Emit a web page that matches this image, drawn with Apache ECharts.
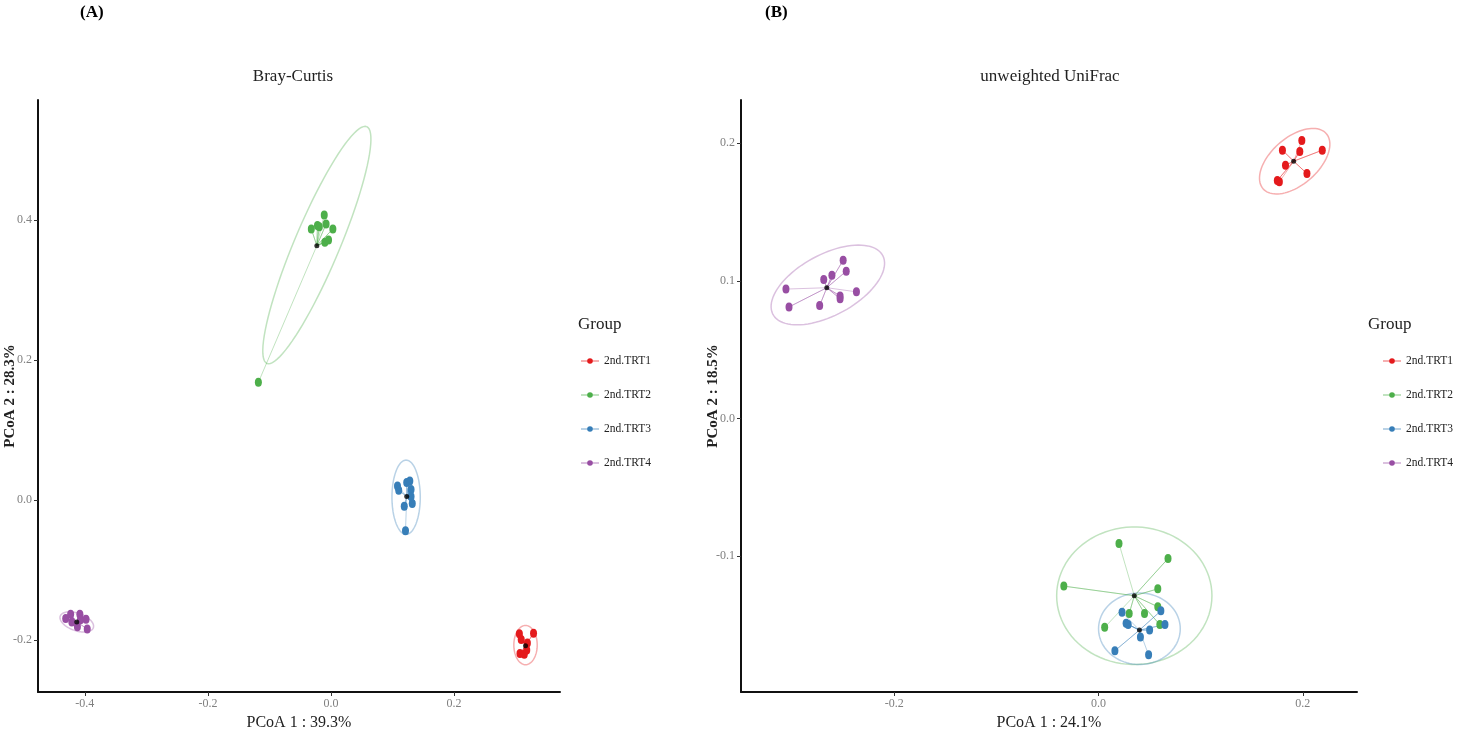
<!DOCTYPE html>
<html>
<head>
<meta charset="utf-8">
<title>PCoA</title>
<script src="https://cdn.jsdelivr.net/npm/echarts@6.0.0/dist/echarts.min.js"></script>
<style>
  html, body { margin: 0; padding: 0; background: #fff; }
  #main { width: 1460px; height: 738px; }
</style>
</head>
<body>
<div id="main"></div>
<script>
const groups = ['2nd.TRT1', '2nd.TRT2', '2nd.TRT3', '2nd.TRT4']

// Bray-Curtis (A)
const bcTRT1 = [[0.306, -0.191], [0.309, -0.199], [0.329, -0.190], [0.319, -0.204], [0.318, -0.214], [0.307, -0.219], [0.314, -0.220]]
const bcTRT2 = [[-0.011, 0.407], [-0.032, 0.387], [-0.022, 0.392], [-0.019, 0.390], [-0.008, 0.394], [0.003, 0.387], [-0.010, 0.368], [-0.004, 0.371], [-0.118, 0.168]]
const bcTRT3 = [[0.108, 0.020], [0.110, 0.014], [0.123, 0.025], [0.128, 0.027], [0.130, 0.015], [0.130, 0.005], [0.132, -0.005], [0.119, -0.009], [0.121, -0.044]]
const bcTRT4 = [[-0.431, -0.169], [-0.423, -0.163], [-0.421, -0.174], [-0.408, -0.163], [-0.407, -0.171], [-0.398, -0.170], [-0.396, -0.184], [-0.412, -0.181]]
const bcCentroids = [[0.316, -0.208], [-0.023, 0.363], [0.123, 0.005], [-0.413, -0.174]]
// center x, y, end of one axis x, y, end of the other axis x, y
const bcEllipses = [
  [0.316, -0.207, 0.316, -0.179, 0.335, -0.207],
  [-0.023, 0.364, 0.058, 0.533, 0.011, 0.352],
  [0.122, 0.004, 0.122, 0.057, 0.145, 0.004],
  [-0.413, -0.174, -0.386, -0.182, -0.417, -0.186]
]

// unweighted UniFrac (B)
const uuTRT1 = [[0.199, 0.202], [0.180, 0.195], [0.197, 0.194], [0.219, 0.195], [0.183, 0.184], [0.204, 0.178], [0.175, 0.173], [0.177, 0.172]]
const uuTRT2 = [[0.020, -0.091], [0.068, -0.102], [-0.034, -0.122], [0.058, -0.124], [0.058, -0.137], [0.030, -0.142], [0.045, -0.142], [0.060, -0.150], [0.006, -0.152]]
const uuTRT3 = [[0.023, -0.141], [0.061, -0.140], [0.027, -0.149], [0.029, -0.150], [0.050, -0.154], [0.065, -0.150], [0.041, -0.159], [0.016, -0.169], [0.049, -0.172]]
const uuTRT4 = [[-0.306, 0.094], [-0.303, 0.081], [-0.273, 0.082], [-0.269, 0.101], [-0.261, 0.104], [-0.250, 0.115], [-0.247, 0.107], [-0.253, 0.089], [-0.253, 0.087], [-0.237, 0.092]]
const uuCentroids = [[0.191, 0.187], [0.035, -0.129], [0.040, -0.154], [-0.266, 0.095]]
const uuEllipses = [
  [0.192, 0.187, 0.223, 0.207, 0.207, 0.174],
  [0.035, -0.129, 0.111, -0.129, 0.035, -0.079],
  [0.040, -0.153, 0.080, -0.153, 0.040, -0.127],
  [-0.265, 0.097, -0.211, 0.118, -0.252, 0.077]
]

const bcTicksX = [-0.4, -0.2, 0.0, 0.2]
const bcTicksY = [-0.2, 0.0, 0.2, 0.4]
const uuTicksX = [-0.2, 0.0, 0.2]
const uuTicksY = [-0.1, 0.0, 0.1, 0.2]

const colors = ['#e41a1c', '#4daf4a', '#377eb8', '#984ea3']
const lightColors = ['rgba(228,26,28,0.35)', 'rgba(77,175,74,0.35)', 'rgba(55,126,184,0.35)', 'rgba(152,78,163,0.35)']
const serif = "'Liberation Serif', 'DejaVu Serif', serif"

const chart = echarts.init(document.getElementById('main'))

// point -> centroid spokes, drawn as one polyline through the centroid
function spider(points, centroid) {
  const out = []
  points.forEach((p, i) => {
    if (i > 0) out.push({ value: centroid, symbol: 'none' })
    out.push(p)
  })
  return out
}

function ellipseItem(params, api) {
  const cx = api.value(0)
  const cy = api.value(1)
  const ax = api.value(2) - cx
  const ay = api.value(3) - cy
  const bx = api.value(4) - cx
  const by = api.value(5) - cy
  const pts = []
  for (let i = 0; i <= 90; i++) {
    const t = i / 90 * Math.PI * 2
    pts.push(api.coord([cx + Math.cos(t) * ax + Math.sin(t) * bx, cy + Math.cos(t) * ay + Math.sin(t) * by]))
  }
  return {
    type: 'polyline',
    shape: { points: pts },
    style: { fill: null, stroke: lightColors[params.dataIndex], lineWidth: 1.5 }
  }
}

function xAxisFor(grid, min, max, ticks, name) {
  return {
    type: 'value', gridIndex: grid, min: min, max: max,
    name: name, nameLocation: 'middle', nameGap: 23, nameMoveOverlap: false,
    nameTextStyle: { fontFamily: serif, fontSize: 16, color: '#222' },
    axisLine: { show: true, onZero: false, lineStyle: { color: '#111', width: 2 } },
    axisTick: { show: true, customValues: ticks, length: 4, lineStyle: { color: '#333' } },
    axisLabel: { customValues: ticks, formatter: v => v.toFixed(1), color: '#808080', fontFamily: serif, fontSize: 12, margin: 6 },
    splitLine: { show: false }
  }
}

function yAxisFor(grid, min, max, ticks, name) {
  return {
    type: 'value', gridIndex: grid, min: min, max: max,
    name: name, nameLocation: 'middle', nameGap: 20, nameRotate: 90, nameMoveOverlap: false,
    nameTextStyle: { fontFamily: serif, fontSize: 15, color: '#222', fontWeight: 'bold' },
    axisLine: { show: true, onZero: false, lineStyle: { color: '#111', width: 2 } },
    axisTick: { show: true, customValues: ticks, length: 4, lineStyle: { color: '#333' } },
    axisLabel: { customValues: ticks, formatter: v => v.toFixed(1), color: '#808080', fontFamily: serif, fontSize: 12, margin: 6 },
    splitLine: { show: false }
  }
}

function panelSeries(idx, sets, centroids, ellipses) {
  const list = [{
    type: 'custom', xAxisIndex: idx, yAxisIndex: idx, silent: true,
    encode: { x: 0, y: 1 },
    renderItem: ellipseItem,
    data: ellipses,
    z: 1
  }]
  sets.forEach((pts, g) => {
    list.push({
      type: 'line', name: groups[g], xAxisIndex: idx, yAxisIndex: idx,
      data: spider(pts, centroids[g]),
      symbol: 'circle', symbolSize: [7, 9], showSymbol: true,
      lineStyle: { color: lightColors[g], width: 1 },
      itemStyle: { color: colors[g] },
      z: 2
    })
  })
  list.push({
    type: 'scatter', name: 'centroid', xAxisIndex: idx, yAxisIndex: idx,
    data: centroids, symbolSize: 5,
    itemStyle: { color: '#000' },
    z: 3
  })
  return list
}

function legendAt(left) {
  return {
    data: groups, orient: 'vertical', left: left, top: 354, padding: 0,
    itemWidth: 18, itemHeight: 7, itemGap: 20,
    textStyle: { fontFamily: serif, fontSize: 11.5, color: '#222', lineHeight: 14 }
  }
}

const option = {
  animation: false,
  backgroundColor: '#fff',
  grid: [
    { left: 38, top: 100, width: 522, height: 592, containLabel: false, outerBoundsMode: 'none' },
    { left: 741, top: 100, width: 616, height: 592, containLabel: false, outerBoundsMode: 'none' }
  ],
  xAxis: [
    xAxisFor(0, -0.476, 0.372, bcTicksX, 'PCoA 1 : 39.3%'),
    xAxisFor(1, -0.350, 0.253, uuTicksX, 'PCoA 1 : 24.1%')
  ],
  yAxis: [
    yAxisFor(0, -0.274, 0.571, bcTicksY, 'PCoA 2 : 28.3%'),
    yAxisFor(1, -0.199, 0.2315, uuTicksY, 'PCoA 2 : 18.5%')
  ],
  legend: [legendAt(580), legendAt(1382)],
  graphic: [
    { type: 'text', left: 80, top: 4, style: { text: '(A)', font: "bold 17px 'Liberation Serif', serif", fill: '#000' } },
    { type: 'text', left: 765, top: 4, style: { text: '(B)', font: "bold 17px 'Liberation Serif', serif", fill: '#000' } },
    { type: 'text', x: 293, y: 77, style: { text: 'Bray-Curtis', font: "17px 'Liberation Serif', serif", fill: '#222', textAlign: 'center', textVerticalAlign: 'middle' } },
    { type: 'text', x: 1050, y: 77, style: { text: 'unweighted UniFrac', font: "17px 'Liberation Serif', serif", fill: '#222', textAlign: 'center', textVerticalAlign: 'middle' } },
    { type: 'text', x: 578, y: 325, style: { text: 'Group', font: "17px 'Liberation Serif', serif", fill: '#222', textVerticalAlign: 'middle' } },
    { type: 'text', x: 1368, y: 325, style: { text: 'Group', font: "17px 'Liberation Serif', serif", fill: '#222', textVerticalAlign: 'middle' } }
  ],
  series: [].concat(
    panelSeries(0, [bcTRT1, bcTRT2, bcTRT3, bcTRT4], bcCentroids, bcEllipses),
    panelSeries(1, [uuTRT1, uuTRT2, uuTRT3, uuTRT4], uuCentroids, uuEllipses)
  )
}

chart.setOption(option)
</script>
</body>
</html>
